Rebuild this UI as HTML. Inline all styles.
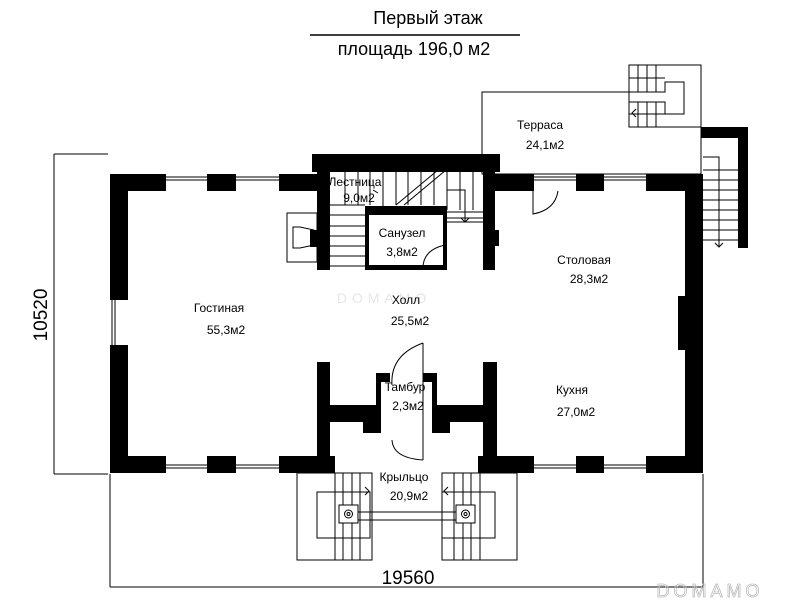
<!DOCTYPE html>
<html><head><meta charset="utf-8"><style>
body{margin:0;background:#fff;}
svg{display:block;font-family:"Liberation Sans",sans-serif;}
</style></head><body>
<svg width="789" height="610" viewBox="0 0 789 610" xmlns="http://www.w3.org/2000/svg">
<rect width="789" height="610" fill="#fff"/>
<text x="428" y="24" font-size="18" text-anchor="middle">Первый этаж</text>
<line x1="310" y1="35" x2="520" y2="35" stroke="#000" stroke-width="1.5"/>
<text x="414" y="55" font-size="18" text-anchor="middle">площадь 196,0 м2</text>
<text x="384" y="303" font-size="14" fill="#e6e6e6" text-anchor="middle" letter-spacing="5">DOMAMO</text>

<g fill="none" stroke="#000" stroke-width="1">
<line x1="54" y1="154" x2="54" y2="474"/>
<line x1="54" y1="154" x2="108" y2="154"/>
<line x1="54" y1="474" x2="108" y2="474"/>
<line x1="110" y1="587" x2="703" y2="587"/>
<line x1="110" y1="474" x2="110" y2="587"/>
<line x1="703" y1="474" x2="703" y2="587"/>
<rect x="482" y="92" width="219" height="82"/>
<rect x="629" y="65" width="72" height="62" fill="#fff"/>
<path d="M629 92 H665 V82 H684 V114 H665 V102 H629"/>
<path d="M638 65V92M647 65V92M656 65V92M638 102V127M647 102V127M656 102V127M629 78H665M629 114H665"/>
<path d="M636 109 l-4 4 4 4"/>
<path d="M703 157 H719 V247"/>
<path d="M703 170H738M703 180H738M703 190H738M703 200H738M703 210H738M703 220H738M703 230H738M703 240H738"/>
<path d="M715 243 l4 4 4 -4"/>
<path d="M330 205H365M330 215H365M330 226H365M330 236H365M330 246H365M330 256H365M330 266H365"/>
<path d="M345 170V205M358 170V205M370 170V205M383 170V210M396 170V205M408 170V205M421 170V205M434 170V205M447 170V210M460 170V210M473 170V210"/>
<path d="M396 205L438 170M404 205L446 170"/>
<path d="M447 190 H465 V222"/>
<path d="M447 222 H483 M447 218H483 M447 212H483"/>
<path d="M461 218 l4 4 4 -4"/>
<path d="M373 190 l5 3"/>
<rect x="287" y="213" width="30" height="49"/>
<path d="M293 227H300L314 230V245L300 248H293Z"/>
<path d="M533 191 V214 Q555 210 558 191"/>
<path d="M423 268 Q423 250 445 245"/>
<rect x="297" y="473" width="75" height="87"/>
<rect x="442" y="473" width="75" height="87"/>
<path d="M317 492H370V538H317Z M442 492H495V538H442Z"/>
<path d="M335 473V560M343 473V560M352 473V560M360 473V560M454 473V560M463 473V560M471 473V560M480 473V560"/>
<rect x="339" y="505" width="19" height="18" fill="#fff"/>
<rect x="456" y="505" width="19" height="18" fill="#fff"/>
<circle cx="348.5" cy="514" r="4"/><circle cx="348.5" cy="514" r="1.5"/>
<circle cx="465.5" cy="514" r="4"/><circle cx="465.5" cy="514" r="1.5"/>
<path d="M358 512H456M358 520H456"/>
<path d="M365 487 l4 4 -4 4 M448 487 l-4 4 4 4"/>
<path d="M166 177H207M166 180H207M236 177H279M236 180H279M534 177H576M534 180H576M604 177H646M604 180H646"/>
<path d="M166 468H207M166 465H207M236 468H279M236 465H279M534 468H576M534 465H576M604 468H646M604 465H646"/>
<path d="M112 300V345M115 300V345"/>
</g>

<g fill="#000">
<rect x="110" y="174" width="56" height="17"/>
<rect x="207" y="174" width="29" height="17"/>
<rect x="279" y="174" width="40" height="17"/>
<rect x="110" y="174" width="18" height="126"/>
<rect x="110" y="345" width="18" height="128"/>
<rect x="110" y="456" width="56" height="17"/>
<rect x="207" y="456" width="29" height="17"/>
<rect x="279" y="456" width="56" height="17"/>
<rect x="478" y="456" width="56" height="17"/>
<rect x="576" y="456" width="28" height="17"/>
<rect x="646" y="456" width="57" height="17"/>
<rect x="685" y="174" width="18" height="299"/>
<rect x="678" y="296" width="8" height="54"/>
<rect x="483" y="174" width="51" height="17"/>
<rect x="576" y="174" width="28" height="17"/>
<rect x="646" y="174" width="57" height="17"/>
<rect x="312" y="154" width="188" height="18"/>
<rect x="317" y="154" width="13" height="116"/>
<rect x="483" y="154" width="12" height="116"/>
<rect x="495" y="230" width="4" height="16"/>
<rect x="365" y="206" width="82" height="9"/>
<rect x="365" y="206" width="4" height="64"/>
<rect x="443" y="206" width="4" height="64"/>
<rect x="365" y="265" width="82" height="5"/>
<rect x="310" y="230" width="7" height="17"/>
<rect x="701" y="127" width="47" height="11"/>
<rect x="738" y="127" width="10" height="121"/>
<!-- lower interior -->
<rect x="317" y="362" width="13" height="111"/>
<rect x="483" y="362" width="14" height="111"/>
<rect x="317" y="405" width="64" height="17"/>
<rect x="363" y="405" width="18" height="28"/>
<rect x="376" y="373" width="14" height="9"/>
<rect x="376" y="373" width="5" height="49"/>
<rect x="432" y="405" width="65" height="17"/>
<rect x="432" y="405" width="18" height="28"/>
<rect x="423" y="373" width="14" height="9"/>
<rect x="432" y="373" width="5" height="49"/>
</g>
<rect x="381" y="382" width="51" height="40" fill="#fff"/>
<path d="M423 343 V460 M423 343 Q390 355 392 385 M392 440 Q393 458 423 460" fill="none" stroke="#000"/>

<g font-size="12" text-anchor="middle">
<text x="540" y="129">Терраса</text>
<text x="545" y="149">24,1м2</text>
<text x="355" y="186">Лестница</text>
<text x="359" y="202">9,0м2</text>
<text x="402" y="237">Санузел</text>
<text x="402" y="256">3,8м2</text>
<text x="584" y="264">Столовая</text>
<text x="589" y="283">28,3м2</text>
<text x="219" y="312">Гостиная</text>
<text x="226" y="334">55,3м2</text>
<text x="406" y="304">Холл</text>
<text x="410" y="325">25,5м2</text>
<text x="405" y="391">Тамбур</text>
<text x="408" y="410">2,3м2</text>
<text x="572" y="394">Кухня</text>
<text x="576" y="416">27,0м2</text>
<text x="404" y="481">Крыльцо</text>
<text x="409" y="500">20,9м2</text>
</g>
<text x="710" y="597" font-size="18" fill="none" stroke="#bbb" stroke-width="0.8" text-anchor="middle" letter-spacing="4">DOMAMO</text>
<text x="408" y="584" font-size="19" text-anchor="middle">19560</text>
<text transform="translate(47,315) rotate(-90)" font-size="19" text-anchor="middle">10520</text>
</svg>
</body></html>
